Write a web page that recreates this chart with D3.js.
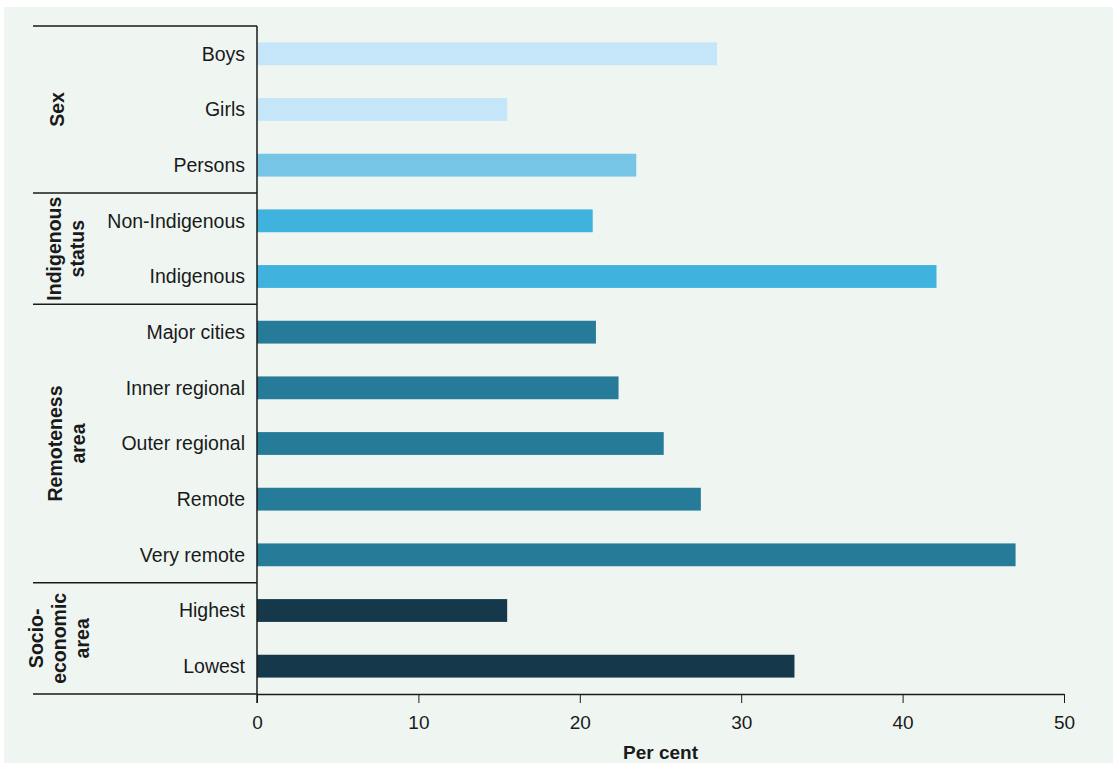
<!DOCTYPE html>
<html><head><meta charset="utf-8">
<script src="https://cdn.jsdelivr.net/npm/d3@7"></script>
<style>body{margin:0;background:#fff}svg{display:block}</style>
</head><body>
<script>
const categories = ["Boys","Girls","Persons","Non-Indigenous","Indigenous","Major cities","Inner regional","Outer regional","Remote","Very remote","Highest","Lowest"];
const values = [28.5,15.5,23.5,20.8,42.1,21.0,22.4,25.2,27.5,47.0,15.5,33.3];
const groupOf = ["Sex","Sex","Sex","Indigenous status","Indigenous status","Remoteness area","Remoteness area","Remoteness area","Remoteness area","Remoteness area","Socio-economic area","Socio-economic area"];
const colourKey = ["sexLight","sexLight","persons","indig","indig","remote","remote","remote","remote","remote","ses","ses"];
const groups = [
  {name:"Sex", lines:["Sex"], first:0, last:2},
  {name:"Indigenous status", lines:["Indigenous","status"], first:3, last:4},
  {name:"Remoteness area", lines:["Remoteness","area"], first:5, last:9},
  {name:"Socio-economic area", lines:["Socio-","economic","area"], first:10, last:11}
];
const xTicks = [0,10,20,30,40,50];
const palette = {sexLight:"#c5e6f8", persons:"#76c5e7", indig:"#40b2de", remote:"#267b98", ses:"#15384a"};

const W=1114,H=763;
const svg=d3.select("body").append("svg").attr("width",W).attr("height",H);
svg.append("rect").attr("x",4).attr("y",7).attr("width",W-5).attr("height",H-7).attr("fill","#eff6f2");

const x=d3.scaleLinear().domain([0,50]).range([257,1064]);
const y=d3.scaleBand().domain(categories).range([26,694]).paddingInner(0.59).paddingOuter(0.295);
const band=d3.scaleBand().domain(categories).range([26,694]);

svg.append("g").selectAll("rect").data(categories).join("rect")
  .attr("x",x(0)).attr("y",d=>y(d)).attr("height",y.bandwidth())
  .attr("width",(d,i)=>x(values[i])-x(0)).attr("fill",(d,i)=>palette[colourKey[i]]);

// x axis
const xa=svg.append("g").attr("transform","translate(0,694)")
  .call(d3.axisBottom(x).tickValues(xTicks).tickSize(9).tickSizeOuter(0).tickPadding(13));
xa.select(".domain").attr("stroke","#1a1a1a").attr("stroke-width",1.5);
xa.selectAll(".tick line").attr("stroke","#1a1a1a").attr("stroke-width",1);
xa.selectAll(".tick text").attr("font-family","'Liberation Sans',Arial,sans-serif")
  .attr("font-size",19).attr("fill","#1a1a1a");
svg.append("line").attr("x1",33).attr("x2",257).attr("y1",694).attr("y2",694).attr("stroke","#1a1a1a").attr("stroke-width",1.5);

// y axis line
svg.append("line").attr("x1",257).attr("x2",257).attr("y1",26).attr("y2",703).attr("stroke","#1a1a1a").attr("stroke-width",1.5);
// top line and separators
const seps=[26, band(categories[3]), band(categories[5]), band(categories[10])];
svg.append("g").selectAll("line").data(seps).join("line")
  .attr("x1",33).attr("x2",257).attr("y1",d=>d).attr("y2",d=>d).attr("stroke","#1a1a1a").attr("stroke-width",1.5);

// category labels
svg.append("g").selectAll("text").data(categories).join("text")
  .attr("x",245).attr("y",d=>y(d)+y.bandwidth()/2).attr("dy","0.35em")
  .attr("text-anchor","end").attr("font-family","'Liberation Sans',Arial,sans-serif")
  .attr("font-size",19.5).attr("fill","#1a1a1a").text(d=>d);

// group labels
const gcentre={ "Sex":57, "Indigenous status":66, "Remoteness area":67, "Socio-economic area":59 };
groups.forEach(g=>{
  const top=band(categories[g.first]), bot=band(categories[g.last])+band.bandwidth();
  const cy=(top+bot)/2, cx=gcentre[g.name];
  const lh=23, n=g.lines.length;
  const t=svg.append("text").attr("transform",`translate(${cx},${cy}) rotate(-90)`)
    .attr("text-anchor","middle").attr("font-family","'Liberation Sans',Arial,sans-serif")
    .attr("font-weight","bold").attr("font-size",19.5).attr("fill","#1a1a1a");
  g.lines.forEach((l,i)=>{
    t.append("tspan").attr("x",0).attr("y",(i-(n-1)/2)*lh).attr("dy","0.35em").text(l);
  });
});

svg.append("text").attr("x",(x(0)+x(50))/2).attr("y",752).attr("dy","0.35em")
  .attr("text-anchor","middle").attr("font-family","'Liberation Sans',Arial,sans-serif")
  .attr("font-weight","bold").attr("font-size",19).attr("fill","#1a1a1a").text("Per cent");
</script>
</body></html>
